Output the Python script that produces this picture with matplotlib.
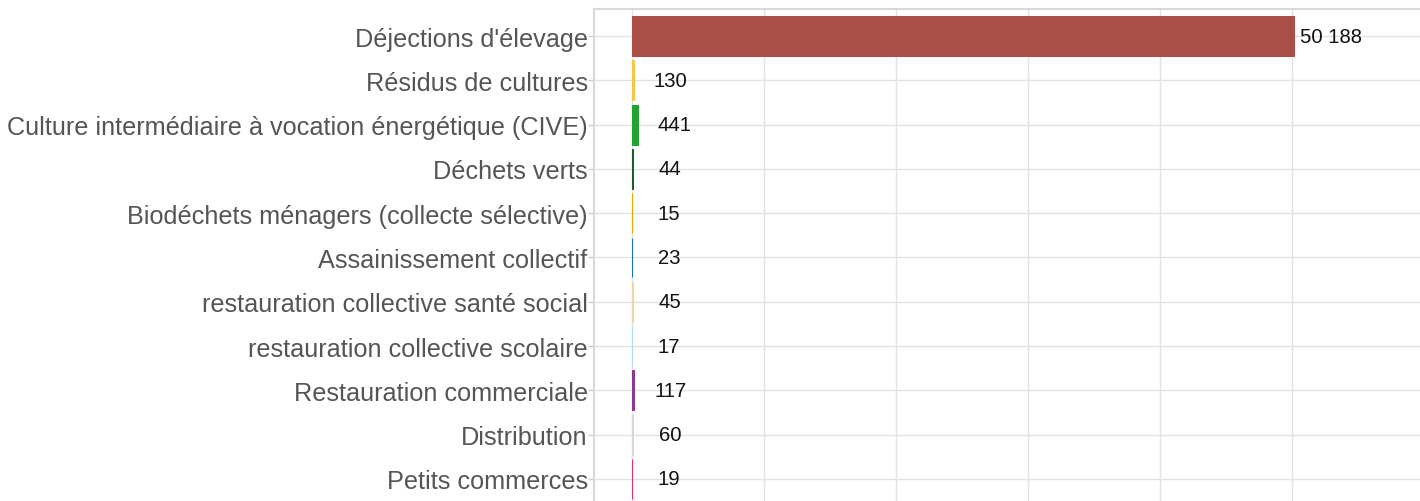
import matplotlib
matplotlib.use("Agg")
import matplotlib.pyplot as plt
from matplotlib.ticker import MultipleLocator

plt.rcParams['font.family'] = ['Liberation Sans', 'DejaVu Sans']

categories = [
    "Déjections d'élevage",
    "Résidus de cultures",
    "Culture intermédiaire à vocation énergétique (CIVE)",
    "Déchets verts",
    "Biodéchets ménagers (collecte sélective)",
    "Assainissement collectif",
    "restauration collective santé social",
    "restauration collective scolaire",
    "Restauration commerciale",
    "Distribution",
    "Petits commerces",
]
values = [50188, 130, 441, 44, 15, 23, 45, 17, 117, 60, 19]
colors = [
    "#a84f48", "#f7c744", "#22a22f", "#1d5e22", "#f5a400", "#1b70c0",
    "#f3d3a2", "#b5dcf5", "#8e3a8c", "#d6d6d6", "#e2306b",
]

W, H = 1420, 502
fig = plt.figure(figsize=(W / 100, H / 100), dpi=100)
ax = fig.add_axes([594 / W, 0, (1420 - 594) / W, (H - 10) / H])

ypos = list(range(len(categories)))
ax.barh(ypos, values, height=0.9, color=colors, edgecolor=colors,
        linewidth=0.75, zorder=2)

def fmt(v):
    return f"{v:,}".replace(",", " ")

for y, v in zip(ypos, values):
    ax.annotate(fmt(v), xy=(v, y), xytext=(37, 0), textcoords="offset pixels",
                ha="center", va="center", fontsize=14.6, color="#111111",
                zorder=3)

ax.set_xlim(-2880, 59730)
ax.set_ylim(10.5, -0.61)
ax.set_yticks(ypos)
ax.set_yticklabels(categories, fontsize=18.2, color="#555555")
ax.xaxis.set_major_locator(MultipleLocator(10000))
ax.tick_params(axis="x", length=0, labelbottom=False)
ax.tick_params(axis="y", length=4, width=1, color="#cccccc", pad=0.5)

ax.grid(True, color="#e2e2e2", linewidth=1, zorder=0)
ax.set_axisbelow(True)

for side in ("right", "bottom"):
    ax.spines[side].set_visible(False)
for side in ("left", "top"):
    ax.spines[side].set_color("#d8d8d8")
    ax.spines[side].set_linewidth(1.5)

fig.savefig("out.png", dpi=100)
